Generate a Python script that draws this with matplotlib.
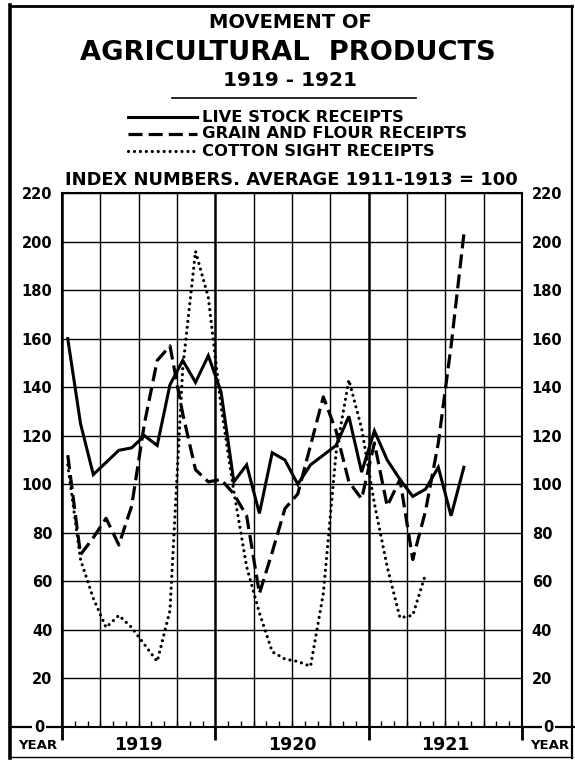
import matplotlib
matplotlib.use("Agg")
import matplotlib.pyplot as plt
from matplotlib.lines import Line2D
from matplotlib.transforms import blended_transform_factory

# monthly index numbers, starting january 1919
live_stock = [160, 125, 104, 109, 114, 115, 120, 116, 141, 151, 142, 153,
              138, 101, 108, 88, 113, 110, 100, 108, 112, 116, 128, 105,
              122, 110, 102, 95, 98, 107, 87, 107]
grain_flour = [112, 71, 78, 86, 75, 91, 125, 151, 157, 129, 106, 101,
               102, 96, 87, 55, 72, 90, 96, 116, 136, 122, 101, 94,
               117, 91, 102, 69, 89, 117, 157, 203]
cotton_sight = [108, 69, 53, 41, 46, 41, 34, 27, 48, 148, 196, 177,
                132, 97, 66, 47, 31, 28, 27, 25, 55, 113, 143, 123,
                92, 66, 45, 46, 63]
years = ["1919", "1920", "1921"]
y_ticks = list(range(20, 221, 20))

series_names = ["LIVE STOCK RECEIPTS", "GRAIN AND FLOUR RECEIPTS", "COTTON SIGHT RECEIPTS"]

W, H = 575, 760
plt.rcParams['font.family'] = ['DejaVu Sans']
plt.rcParams['font.weight'] = 'bold'

fig = plt.figure(figsize=(W / 100, H / 100), dpi=100)
ax = fig.add_axes([62 / W, 33 / H, 460 / W, 534 / H])

# line styles
sty_live = dict(color='black', lw=2.2, linestyle='-', solid_joinstyle='miter')
sty_grain = dict(color='black', lw=2.3, linestyle=(0, (4.4, 1.9)), dash_capstyle='butt')
sty_cotton = dict(color='black', lw=2.3, linestyle=(0, (0.01, 1.85)), dash_capstyle='round')

def months(vals):
    return [i + 0.45 for i in range(len(vals))]

# grid
for m in range(0, 37, 3):
    ax.axvline(m, color='black', lw=1.8 if m % 12 == 0 else 1.0, zorder=1)
for v in range(20, 221, 20):
    ax.axhline(v, color='black', lw=1.0, zorder=1)

ax.plot(months(cotton_sight), cotton_sight, zorder=3, **sty_cotton)
ax.plot(months(grain_flour), grain_flour, zorder=3, **sty_grain)
ax.plot(months(live_stock), live_stock, zorder=4, **sty_live)

ax.set_xlim(0, 36)
ax.set_ylim(0, 220)
for s in ax.spines.values():
    s.set_linewidth(1.5)

ax.set_xticks([0, 12, 24, 36])
ax.set_xticklabels([])
ax.set_xticks(range(37), minor=True)
ax.tick_params(axis='x', which='major', direction='out', length=9, width=2)
ax.tick_params(axis='x', which='minor', direction='in', length=4, width=1)

ax.set_yticks(y_ticks)
ax.set_yticklabels([str(v) for v in y_ticks])
ax.tick_params(axis='y', which='both', length=0, labelsize=10.5, pad=7,
               labelleft=True, labelright=True)

# zero line carried out to the border, with "0" on it
bt = blended_transform_factory(ax.transAxes, ax.transData)
ax.plot([-0.113, 0], [0, 0], color='black', lw=1.6, transform=bt, clip_on=False)
ax.plot([1, 1.115], [0, 0], color='black', lw=1.6, transform=bt, clip_on=False)
for xa in (-0.05, 1.057):
    ax.text(xa, 0, "0", transform=bt, ha='center', va='center', fontsize=10.5,
            bbox=dict(facecolor='white', edgecolor='none', pad=1.0))

# year labels
ba = blended_transform_factory(ax.transData, ax.transAxes)
for k, yr in enumerate(years):
    ax.text(12 * k + 6, -0.034, yr, transform=ba, ha='center', va='center', fontsize=12.5)
for xa in (-0.052, 1.061):
    ax.text(xa, -0.034, "YEAR", transform=ax.transAxes, ha='center', va='center', fontsize=9.5)

# titles
def fy(px):
    return 1 - px / H

fig.text(290 / W, fy(23), "MOVEMENT OF", ha='center', va='center', fontsize=14)
fig.text(288 / W, fy(53), "AGRICULTURAL  PRODUCTS", ha='center', va='center', fontsize=19.6)
fig.text(290 / W, fy(80), "1919 - 1921", ha='center', va='center', fontsize=14.5)
fig.add_artist(Line2D([172 / W, 416 / W], [fy(98), fy(98)], color='black', lw=1.2))

# legend
legend_y = [117, 134, 151]
for sty, name, yy in zip([sty_live, sty_grain, sty_cotton], series_names, legend_y):
    fig.add_artist(Line2D([128 / W, 197 / W], [fy(yy), fy(yy)], **sty))
    fig.text(202 / W, fy(yy), name, ha='left', va='center', fontsize=11.8)

fig.text(291 / W, fy(180), "INDEX NUMBERS. AVERAGE 1911-1913 = 100",
         ha='center', va='center', fontsize=12.9)

# frame around the whole plate
fig.add_artist(Line2D([10 / W, 10 / W], [fy(5), fy(758)], color='black', lw=2.6))
fig.add_artist(Line2D([10 / W, 572 / W], [fy(6), fy(6)], color='black', lw=2.0))
fig.add_artist(Line2D([572 / W, 572 / W], [fy(6), fy(758)], color='black', lw=1.6))
fig.add_artist(Line2D([10 / W, 572 / W], [fy(757), fy(757)], color='black', lw=1.0))

fig.savefig("out.png", dpi=100)
